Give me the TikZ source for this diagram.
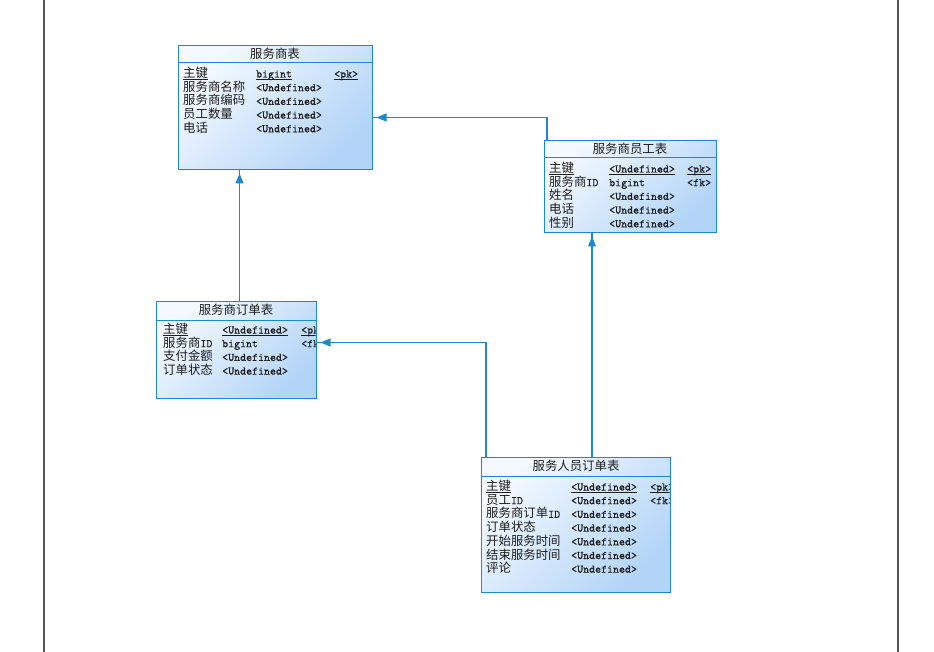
\documentclass[tikz,border=0pt]{standalone}
\usepackage{fontspec}
\newfontfamily\cjk{Noto Sans CJK SC}
\newfontfamily\mono{Latin Modern Mono}[FakeBold=0.6]
\usetikzlibrary{arrows.meta}
\definecolor{bord}{RGB}{30,136,206}
\definecolor{lite}{RGB}{244,249,255}
\definecolor{deep}{RGB}{178,212,247}
\definecolor{ink}{RGB}{28,28,28}
\definecolor{frame}{RGB}{85,85,85}
\newcommand\zh[1]{{\fontsize{12.4}{14}\cjk #1}}
\newcommand\fld[4]{\node[fld] (#1) at (#2,#3) {#4};}
\newcommand\ul[1]{\draw[uline] ([yshift=-2pt]#1.base west) -- ([yshift=-2pt]#1.base east);}
\tikzset{
  tbl/.style={draw=bord, line width=1pt, anchor=north west, inner sep=0pt,
    top color=lite, bottom color=deep, shading angle=45},
  sepline/.style={draw=bord, line width=1pt},
  ttl/.style={inner sep=0pt, text height=11pt, text depth=2pt, text=ink},
  fld/.style={anchor=west, inner sep=0pt, text height=11pt, text depth=2pt,
    text=ink, font=\fontsize{11.6}{13}\mono},
  uline/.style={draw=ink, line width=0.8pt},
  conn/.style={draw=bord, line width=1.2pt},
  tip/.style={draw=bord, line width=1.2pt, shorten >=3.5pt,
    -{Triangle[length=10pt,width=8pt]}},
  pageedge/.style={draw=frame, line width=1.6pt}
}
\begin{document}
\begin{tikzpicture}[x=1pt,y=-1pt]
\useasboundingbox (0,0) rectangle (934,652);
\fill[white] (0,0) rectangle (934,652);
% page borders
\coordinate (pl0) at (44,0);  \coordinate (pl1) at (44,652);
\coordinate (pr0) at (898,0); \coordinate (pr1) at (898,652);
\draw[pageedge] (pl0) -- (pl1);
\draw[pageedge] (pr0) -- (pr1);

% ---------- 服务商表 ----------
\node[tbl, minimum width=194pt, minimum height=124pt] (t1) at (178,45) {};
\draw[sepline] ([yshift=-18pt]t1.north west) -- ([yshift=-18pt]t1.north east);
\node[ttl] (t1t) at (275,54) {\zh{服务商表}};
\fld{t1a1}{183}{73}{\zh{主键}}
\fld{t1b1}{256}{73}{bigint}
\fld{t1c1}{334}{73}{<pk>}
\ul{t1a1}\ul{t1b1}\ul{t1c1}
\fld{t1a2}{183}{86.7}{\zh{服务商名称}}
\fld{t1b2}{256}{86.7}{<Undefined>}
\fld{t1a3}{183}{100.4}{\zh{服务商编码}}
\fld{t1b3}{256}{100.4}{<Undefined>}
\fld{t1a4}{183}{114.1}{\zh{员工数量}}
\fld{t1b4}{256}{114.1}{<Undefined>}
\fld{t1a5}{183}{127.8}{\zh{电话}}
\fld{t1b5}{256}{127.8}{<Undefined>}

% ---------- 服务商员工表 ----------
\node[tbl, minimum width=172pt, minimum height=92pt] (t2) at (544,140) {};
\draw[sepline] ([yshift=-18pt]t2.north west) -- ([yshift=-18pt]t2.north east);
\node[ttl] (t2t) at (630,149) {\zh{服务商员工表}};
\fld{t2a1}{549}{168}{\zh{主键}}
\fld{t2b1}{609}{168}{<Undefined>}
\fld{t2c1}{687}{168}{<pk>}
\ul{t2a1}\ul{t2b1}\ul{t2c1}
\fld{t2a2}{549}{181.7}{\zh{服务商}ID}
\fld{t2b2}{609}{181.7}{bigint}
\fld{t2c2}{687}{181.7}{<fk>}
\fld{t2a3}{549}{195.4}{\zh{姓名}}
\fld{t2b3}{609}{195.4}{<Undefined>}
\fld{t2a4}{549}{209.1}{\zh{电话}}
\fld{t2b4}{609}{209.1}{<Undefined>}
\fld{t2a5}{549}{222.8}{\zh{性别}}
\fld{t2b5}{609}{222.8}{<Undefined>}

% ---------- 服务商订单表 ----------
\node[tbl, minimum width=160pt, minimum height=97pt] (t3) at (156,301) {};
\draw[sepline] ([yshift=-19pt]t3.north west) -- ([yshift=-19pt]t3.north east);
\node[ttl] (t3t) at (236,310) {\zh{服务商订单表}};
\begin{scope}
\clip (t3.north west) rectangle ([xshift=-1.5pt]t3.south east);
\fld{t3a1}{163}{329}{\zh{主键}}
\fld{t3b1}{222}{329}{<Undefined>}
\fld{t3c1}{301}{329}{<pk>}
\ul{t3a1}\ul{t3b1}\ul{t3c1}
\fld{t3a2}{163}{342.7}{\zh{服务商}ID}
\fld{t3b2}{222}{342.7}{bigint}
\fld{t3c2}{301}{342.7}{<fk>}
\fld{t3a3}{163}{356.4}{\zh{支付金额}}
\fld{t3b3}{222}{356.4}{<Undefined>}
\fld{t3a4}{163}{370.1}{\zh{订单状态}}
\fld{t3b4}{222}{370.1}{<Undefined>}
\end{scope}

% ---------- 服务人员订单表 ----------
\node[tbl, minimum width=189pt, minimum height=135pt] (t4) at (481,457) {};
\draw[sepline] ([yshift=-19pt]t4.north west) -- ([yshift=-19pt]t4.north east);
\node[ttl] (t4t) at (576,466) {\zh{服务人员订单表}};
\begin{scope}
\clip (t4.north west) rectangle ([xshift=-1.5pt]t4.south east);
\fld{t4a1}{486}{486}{\zh{主键}}
\fld{t4b1}{571}{486}{<Undefined>}
\fld{t4c1}{650}{486}{<pk>}
\ul{t4a1}\ul{t4b1}\ul{t4c1}
\fld{t4a2}{486}{499.7}{\zh{员工}ID}
\fld{t4b2}{571}{499.7}{<Undefined>}
\fld{t4c2}{650}{499.7}{<fk>}
\fld{t4a3}{486}{513.4}{\zh{服务商订单}ID}
\fld{t4b3}{571}{513.4}{<Undefined>}
\fld{t4a4}{486}{527.1}{\zh{订单状态}}
\fld{t4b4}{571}{527.1}{<Undefined>}
\fld{t4a5}{486}{540.8}{\zh{开始服务时间}}
\fld{t4b5}{571}{540.8}{<Undefined>}
\fld{t4a6}{486}{554.5}{\zh{结束服务时间}}
\fld{t4b6}{571}{554.5}{<Undefined>}
\fld{t4a7}{486}{568.2}{\zh{评论}}
\fld{t4b7}{571}{568.2}{<Undefined>}
\end{scope}

% ---------- references ----------
% 服务商员工表 -> 服务商表
\draw[conn] ([xshift=3pt]t2.north west) |- ([yshift=-10pt]t1.east);
\draw[tip]  ([xshift=3pt]t2.north west) |- ([yshift=-10pt]t1.east);
% 服务商订单表 -> 服务商表
\draw[conn] ([xshift=3pt]t3.north) -- ([xshift=3pt]t3.north |- t1.south);
\draw[tip]  ([xshift=3pt]t3.north) -- ([xshift=3pt]t3.north |- t1.south);
% 服务人员订单表 -> 服务商员工表
\draw[conn] ([xshift=111pt]t4.north west) -- ([xshift=111pt]t4.north west |- t2.south);
\draw[tip]  ([xshift=111pt]t4.north west) -- ([xshift=111pt]t4.north west |- t2.south);
% 服务人员订单表 -> 服务商订单表
\draw[conn] ([xshift=5pt]t4.north west) |- ([yshift=7.5pt]t3.east);
\draw[tip]  ([xshift=5pt]t4.north west) |- ([yshift=7.5pt]t3.east);
\end{tikzpicture}
\end{document}
